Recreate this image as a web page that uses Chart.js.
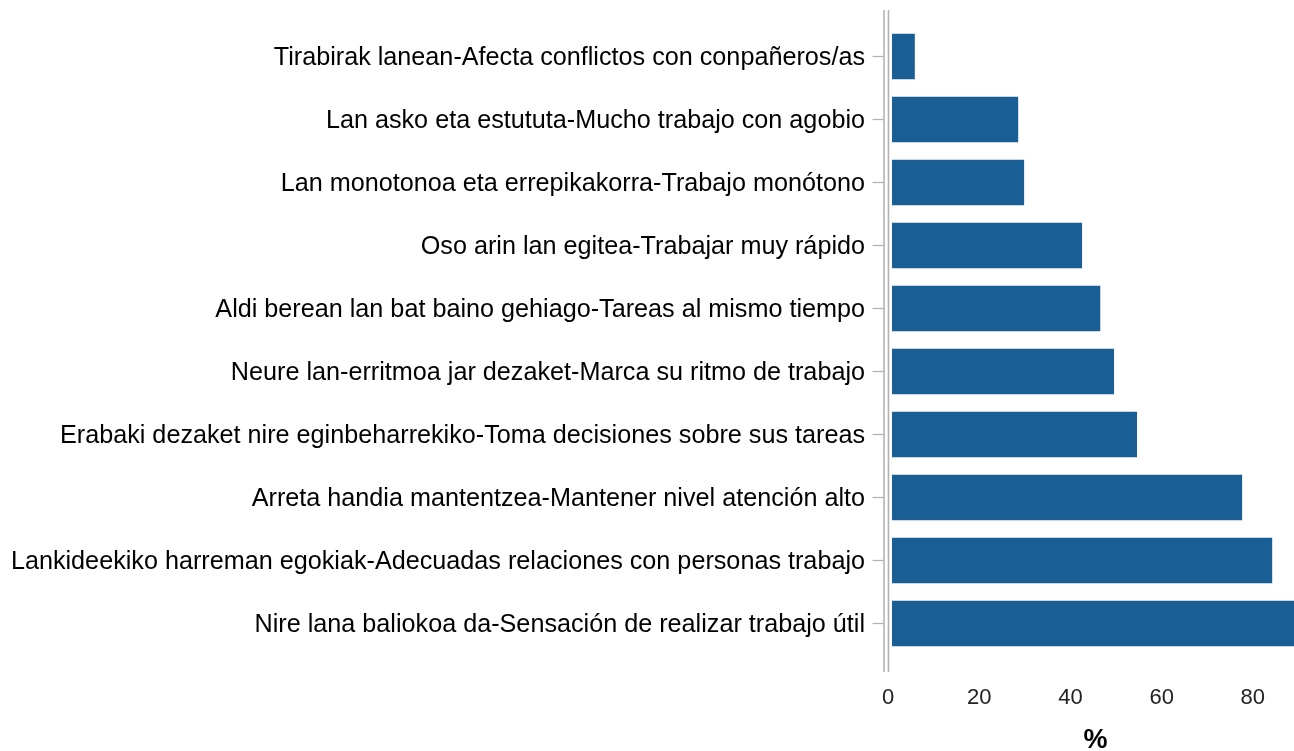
<!DOCTYPE html>
<html>
<head>
<meta charset="utf-8">
<script src="https://cdn.jsdelivr.net/npm/chart.js@4"></script>
<style>
	html, body { margin: 0; padding: 0; background: #fff; overflow: hidden; }
	canvas { display: block; }
</style>
</head>
<body>
<canvas id="barChart" width="1303" height="757"></canvas>
<script>
// Work conditions: share of answers (%)
const categories = [
	'Tirabirak lanean-Afecta conflictos con conpañeros/as',
	'Lan asko eta estututa-Mucho trabajo con agobio',
	'Lan monotonoa eta errepikakorra-Trabajo monótono',
	'Oso arin lan egitea-Trabajar muy rápido',
	'Aldi berean lan bat baino gehiago-Tareas al mismo tiempo',
	'Neure lan-erritmoa jar dezaket-Marca su ritmo de trabajo',
	'Erabaki dezaket nire eginbeharrekiko-Toma decisiones sobre sus tareas',
	'Arreta handia mantentzea-Mantener nivel atención alto',
	'Lankideekiko harreman egokiak-Adecuadas relaciones con personas trabajo',
	'Nire lana baliokoa da-Sensación de realizar trabajo útil'
];
const percentValues = [5.9, 28.6, 29.9, 42.6, 46.6, 49.6, 54.6, 77.7, 84.3, 92];
const xTickValues = [0, 20, 40, 60, 80];
const xAxisTitle = '%';

const FONT = "'Liberation Sans', Arial, sans-serif";
const AXIS_GREY = '#b3b3b3';

// double axis line + small tick marks on the category axis
const axisLines = {
	id: 'axisLines',
	afterDatasetsDraw(chart) {
		const { ctx, chartArea, scales } = chart;
		const x0 = chartArea.left;
		ctx.save();
		ctx.strokeStyle = AXIS_GREY;
		ctx.lineWidth = 1.6;
		[x0 - 4, x0 + 0.5].forEach(x => {
			ctx.beginPath();
			ctx.moveTo(x, chartArea.top - 15);
			ctx.lineTo(x, chartArea.bottom + 17);
			ctx.stroke();
		});
		ctx.lineWidth = 1.3;
		scales.y.ticks.forEach((t, i) => {
			const y = scales.y.getPixelForTick(i);
			ctx.beginPath();
			ctx.moveTo(x0 - 15.5, y);
			ctx.lineTo(x0 - 4, y);
			ctx.stroke();
		});
		ctx.restore();
	}
};

new Chart(document.getElementById('barChart').getContext('2d'), {
	type: 'bar',
	data: {
		labels: categories,
		datasets: [{
			data: percentValues,
			backgroundColor: '#195e94',
			borderColor: '#ffffff',
			borderWidth: { left: 4, right: 0, top: 0, bottom: 0 },
			borderSkipped: false,
			barPercentage: 0.73,
			categoryPercentage: 1
		}]
	},
	options: {
		indexAxis: 'y',
		responsive: false,
		animation: false,
		layout: { padding: { top: 25, left: 0, right: 0, bottom: 0 } },
		plugins: {
			legend: { display: false },
			tooltip: { enabled: false }
		},
		scales: {
			x: {
				min: 0,
				max: 91,
				afterFit: scale => { scale.height = 102; },
				grid: { display: false, drawTicks: false },
				border: { display: false },
				afterBuildTicks: scale => { scale.ticks = xTickValues.map(v => ({ value: v })); },
				ticks: {
					padding: 30,
					color: '#222',
					font: { family: FONT, size: 22 }
				},
				title: {
					display: true,
					text: xAxisTitle,
					color: '#000',
					font: { family: FONT, size: 27, weight: 'bold' },
					padding: { top: 0, bottom: 0 }
				}
			},
			y: {
				afterFit: scale => { scale.width = 888; },
				// hidden grid, its tick length only spaces the labels from the axis
				grid: { display: false, drawTicks: true, tickLength: 23 },
				border: { display: false },
				ticks: {
					padding: 0,
					labelOffset: 2,
					color: '#000',
					font: { family: FONT, size: 25.2 }
				}
			}
		}
	},
	plugins: [axisLines]
});
</script>
</body>
</html>
